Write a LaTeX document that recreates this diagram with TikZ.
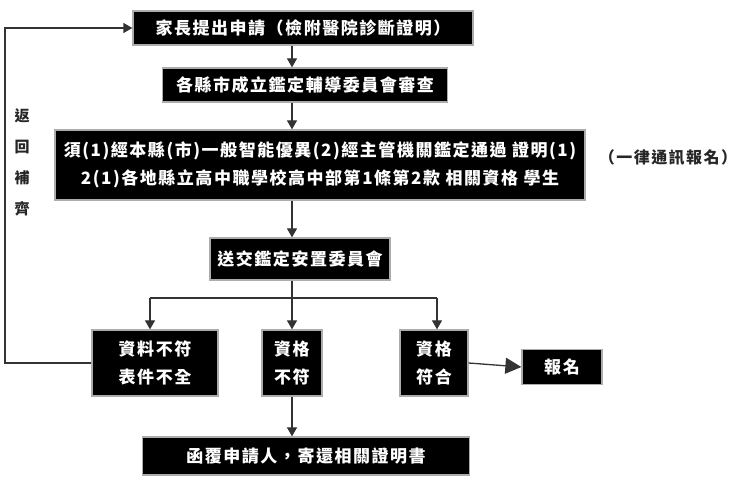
\documentclass[tikz,border=0pt]{standalone}
\usepackage{fontspec}
\setmainfont{Noto Sans CJK TC}
\newfontfamily\cjk[LetterSpace=9]{Noto Sans CJK TC}
\usetikzlibrary{arrows.meta}
\tikzset{
  blk/.style={draw=gray!65, line width=1.3pt, fill=black, text=white, inner sep=0pt,
    align=center, font=\cjk\fontsize{17}{28}\selectfont\bfseries},
  con/.style={draw=black!80, line width=1.3pt},
  arr/.style={con, -{Triangle[length=9pt,width=10pt]}},
  bigarr/.style={con, -{Triangle[length=16pt,width=16pt]}},
  lbl/.style={font=\cjk\fontsize{16}{20}\selectfont\bfseries, text=black!85, inner sep=0pt}
}
\begin{document}
\begin{tikzpicture}[x=1pt,y=-1pt]
\useasboundingbox (0,0) rectangle (748,478);
\coordinate (spine) at (292,0);
\coordinate (fb) at (5,0);
\coordinate (br1) at (150,298);
\coordinate (br2) at (292,298);
\coordinate (br3) at (437,298);

\node[blk, minimum width=340pt, minimum height=34pt] (b1) at (303,28) {家長提出申請（檢附醫院診斷證明）};
\node[blk, minimum width=285pt, minimum height=34pt] (b2) at (305,85) {各縣市成立鑑定輔導委員會審查};
\node[blk, minimum width=530pt, minimum height=70pt] (b3) at (320,165)
  {須(1)經本縣(市)一般智能優異(2)經主管機關鑑定通過\ 證明(1)\\2(1)各地縣立高中職學校高中部第1條第2款\ 相關資格\ 學生};
\node[lbl] (note) at (668,158) {（一律通訊報名）};
\node[blk, minimum width=180pt, minimum height=42pt] (b4) at (300,259) {送交鑑定安置委員會};
\node[blk, minimum width=126pt, minimum height=66pt] (b5) at (155,363) {資料不符\\表件不全};
\node[blk, minimum width=60pt, minimum height=66pt] (b6) at (292,363) {資格\\不符};
\node[blk, minimum width=68pt, minimum height=66pt] (b7) at (434,363) {資格\\符合};
\node[blk, minimum width=80pt, minimum height=35pt] (b8) at (562,367) {報名};
\node[blk, minimum width=327pt, minimum height=38pt] (b9) at (306,456) {函覆申請人，寄還相關證明書};
\node[lbl, align=center, font=\cjk\fontsize{15}{31}\selectfont\bfseries] (ret) at (22,162) {返\\回\\補\\齊};

\draw[arr] (b1.south -| spine) -- (b2.north -| spine);
\draw[arr] (b2.south -| spine) -- (b3.north -| spine);
\draw[arr] (b3.south -| spine) -- (b4.north -| spine);
\draw[con] (b4.south -| spine) -- (br2);
\draw[con] (br1) -- (br3);
\draw[arr] (br1) -- (br1 |- b5.north);
\draw[arr] (br2) -- (br2 |- b6.north);
\draw[arr] (br3) -- (br3 |- b7.north);
\draw[bigarr] (b7.east) -- (b8.west);
\draw[arr] (b6.south) -- (b9.north -| b6.south);
\draw[arr] (b5.west) -- (b5.west -| fb) -- (fb |- b1.west) -- (b1.west);
\end{tikzpicture}
\end{document}
